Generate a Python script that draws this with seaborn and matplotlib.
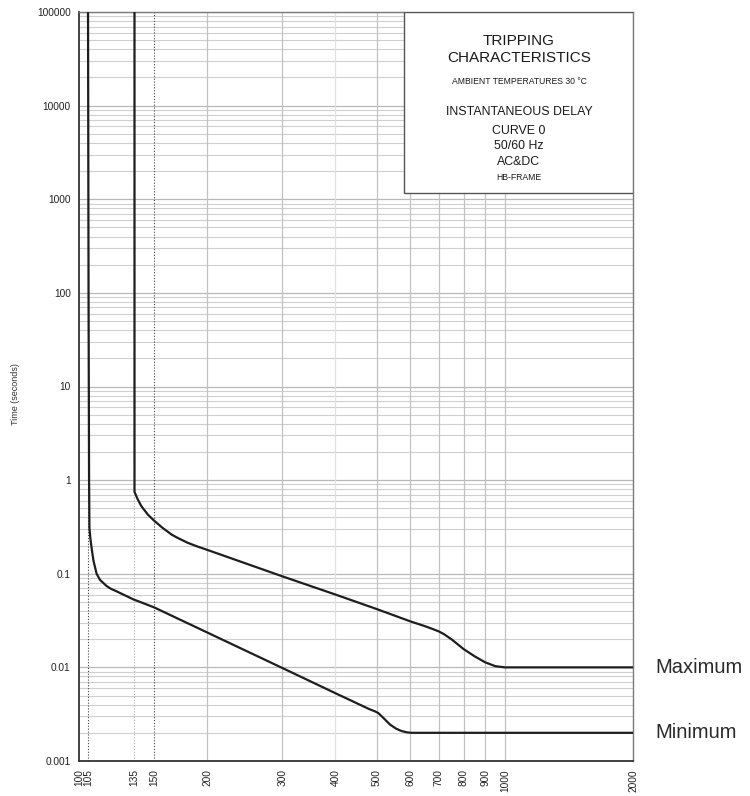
import matplotlib
matplotlib.use("Agg")
import matplotlib.pyplot as plt
import seaborn as sns
import pandas as pd
from matplotlib.patches import Rectangle
from matplotlib.ticker import LogLocator, NullFormatter, FixedLocator

# ---- data ----
max_current = [135, 135, 137, 140, 145, 150, 157, 165, 170, 180, 190, 200, 300, 400, 500,
               600, 650, 680, 700, 720, 750, 800, 850, 900, 950, 1000, 2000]
max_time = [100000, 0.75, 0.64, 0.53, 0.43, 0.37, 0.31, 0.262, 0.243, 0.214, 0.195, 0.18,
            0.094, 0.06, 0.042, 0.031, 0.0275, 0.0255, 0.0242, 0.0226, 0.0199, 0.0157,
            0.0131, 0.0113, 0.0103, 0.01, 0.01]

min_current = [105, 105.3, 105.6, 105.8, 106.4, 107.2, 108.2, 110, 112, 116.1, 118.9,
               122, 134, 150, 200, 300, 400, 482, 495, 505, 512, 520, 537, 555, 572,
               590, 605, 2000]
min_time = [100000, 100, 1.0, 0.31, 0.233, 0.18, 0.136, 0.1, 0.0861, 0.0739, 0.069,
            0.0655, 0.0534, 0.0438, 0.0236, 0.00987, 0.0053, 0.00356, 0.0034, 0.00324,
            0.00305, 0.00285, 0.00246, 0.00222, 0.00209, 0.00202, 0.002, 0.002]

x_ticks = [100, 105, 135, 150, 200, 300, 400, 500, 600, 700, 800, 900, 1000, 2000]
x_tick_labels = [str(v) for v in x_ticks]
y_ticks = [0.001, 0.01, 0.1, 1, 10, 100, 1000, 10000, 100000]
y_tick_labels = ["0.001", "0.01", "0.1", "1", "10", "100", "1000", "10000", "100000"]
x_grid = [200, 300, 400, 500, 600, 700, 800, 900, 1000]
x_dotted = [105, 135, 150]

box_lines = ["TRIPPING", "CHARACTERISTICS", "AMBIENT TEMPERATURES 30 \u00b0C",
             "INSTANTANEOUS DELAY", "CURVE 0", "50/60 Hz", "AC&DC", "HB-FRAME"]
curve_names = ["Maximum", "Minimum"]

# ---- figure ----
sns.set_style("white")
plt.rcParams["font.family"] = ["Liberation Sans", "DejaVu Sans"]

W, H = 750, 796
fig = plt.figure(figsize=(W / 100, H / 100), dpi=100)
ax = fig.add_axes([79 / W, (H - 761) / H, 554 / W, 749 / H])

df = pd.concat([
    pd.DataFrame({"current": max_current, "time": max_time, "curve": "Maximum"}),
    pd.DataFrame({"current": min_current, "time": min_time, "curve": "Minimum"}),
])

ax.set_xscale("log")
ax.set_yscale("log")

sns.lineplot(data=df, x="current", y="time", hue="curve", units="curve",
             estimator=None, sort=False,
             palette={"Maximum": "#1e1e1e", "Minimum": "#1e1e1e"},
             linewidth=1.6, legend=False, ax=ax, zorder=4)

ax.set_xlim(100, 2000)
ax.set_ylim(0.001, 100000)

# grid
ax.yaxis.set_minor_locator(LogLocator(base=10, subs=[2, 3, 4, 5, 6, 7, 8, 9], numticks=20))
ax.yaxis.set_minor_formatter(NullFormatter())
ax.grid(False)
ax.grid(axis="y", which="major", color="#b8b8b8", linewidth=0.9, zorder=1)
ax.grid(axis="y", which="minor", color="#cfcfcf", linewidth=0.8, zorder=1)
for v in x_grid:
    ax.axvline(v, color="#e2e2e2" if v == 400 else "#c2c2c2", linewidth=0.9, zorder=1)
for v in x_dotted:
    ax.axvline(v, color="#b0b0b0" if v == 135 else "#444444", linewidth=0.8,
               linestyle=(0, (1, 1.6)), zorder=2)

ax.set_xticks(x_ticks)
ax.set_xticklabels(x_tick_labels, rotation=90, fontsize=7.3, color="#222222")
ax.xaxis.set_minor_locator(FixedLocator([]))
ax.set_yticks(y_ticks)
ax.set_yticklabels(y_tick_labels, fontsize=7.3, color="#222222")
ax.tick_params(axis="x", which="major", length=4, width=0.8, color="#444444", pad=2, direction="out")
ax.tick_params(axis="y", which="both", length=0, pad=6)
ax.tick_params(axis="x", which="minor", length=0)
ax.set_xlabel("")
ax.set_ylabel("")

for side in ["left", "bottom"]:
    ax.spines[side].set_color("#333333")
    ax.spines[side].set_linewidth(1.3)
for side in ["right", "top"]:
    ax.spines[side].set_color("#7a7a7a")
    ax.spines[side].set_linewidth(1.0)

fig.text(16 / W, 1 - 394 / H, "Time (seconds)", rotation=90, ha="center", va="center",
         fontsize=6.5, color="#333333")

# information box
bx0 = (404 - 79) / 554
by0 = 1 - (193 - 12) / 749
ax.add_patch(Rectangle((bx0, by0), 1 - bx0, 1 - by0, transform=ax.transAxes,
                       facecolor="white", edgecolor="#555555", linewidth=1.0, zorder=6))
line_y = [41, 57.5, 81.5, 112, 130.5, 146, 162, 177.5]
line_size = [11, 11, 6.2, 8.9, 8.9, 8.9, 8.9, 6.2]
cx = (519 - 79) / 554
for txt, py, fs in zip(box_lines, line_y, line_size):
    ax.text(cx, 1 - (py - 12) / 749, txt, transform=ax.transAxes, ha="center",
            va="center", fontsize=fs, color="#1a1a1a", zorder=7)

# curve labels at the right
trans = matplotlib.transforms.blended_transform_factory(ax.transAxes, ax.transData)
for name, val in zip(curve_names, [max_time[-1], min_time[-1]]):
    ax.text((655 - 79) / 554, val, name, transform=trans, ha="left", va="center",
            fontsize=14.5, color="#2a2a2a", clip_on=False)

fig.savefig("out.png", dpi=100)
